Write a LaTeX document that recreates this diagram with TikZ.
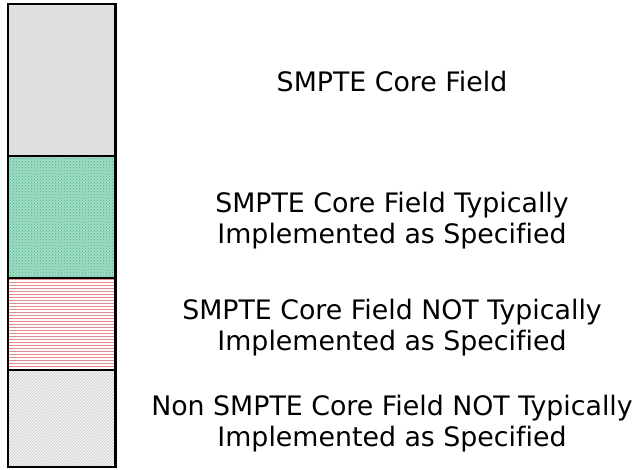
\documentclass[tikz,border=0pt]{standalone}
\usepackage{fontspec}
\setmainfont[Ligatures={NoCommon}]{DejaVu Sans}
\usetikzlibrary{patterns}
\definecolor{coregray}{RGB}{223,223,223}
\definecolor{greenbg}{RGB}{160,220,195}
\definecolor{greendot}{RGB}{70,180,140}
\definecolor{redline}{RGB}{226,140,140}
\pgfdeclarepatternformonly{thick hlines}{\pgfpoint{-1pt}{-1pt}}{\pgfpoint{4pt}{4pt}}{\pgfpoint{3pt}{3pt}}%
 {\pgfsetlinewidth{1.1pt}\pgfpathmoveto{\pgfpoint{-1pt}{0.5pt}}\pgfpathlineto{\pgfpoint{4pt}{0.5pt}}\pgfusepath{stroke}}
\begin{document}
\begin{tikzpicture}[x=1pt,y=-1pt,
  lbl/.style={font=\fontsize{26.8}{30.5}\selectfont,align=center,inner sep=0pt},
  edge/.style={line width=2.6pt}]
   \useasboundingbox (0,0) rectangle (643,469);
   % bands
   \fill[coregray] (8,4) rectangle (115.5,156);
   \fill[greenbg] (8,156) rectangle (115.5,278);
   \fill[pattern=crosshatch dots,pattern color=greendot] (8,156) rectangle (115.5,278);
   \fill[pattern=thick hlines,pattern color=redline] (8,278) rectangle (115.5,370);
   \fill[gray!8] (8,370) rectangle (115.5,467);
   \fill[pattern=north east lines,pattern color=gray!45] (8,370) rectangle (115.5,467);
   \foreach \y in {156,278,370} {
    \draw[edge] (8,\y) -- (115.5,\y);
   }
   \draw[edge] (8,4) rectangle (115.5,467);
   % labels
   \node[lbl] (core) at (392,81.5) {SMPTE Core Field};
   \node[lbl] (typ) at (392,220.5) {SMPTE Core Field Typically\\Implemented as Specified};
   \node[lbl] (nottyp) at (392,327.5) {SMPTE Core Field NOT Typically\\Implemented as Specified};
   \node[lbl] (noncore) at (392,423.5) {Non SMPTE Core Field NOT Typically\\Implemented as Specified};
  \end{tikzpicture}
\end{document}
